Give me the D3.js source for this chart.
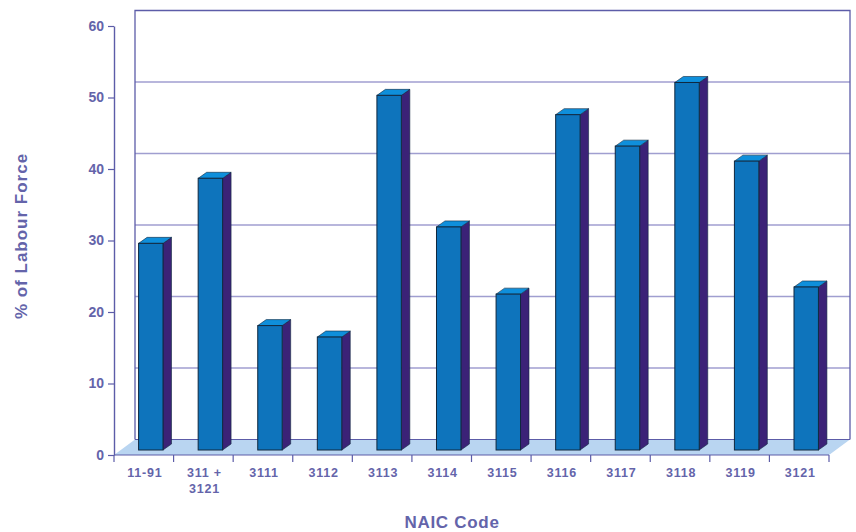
<!DOCTYPE html>
<html><head><meta charset="utf-8">
<script src="https://cdn.jsdelivr.net/npm/d3@7"></script>
<style>html,body{margin:0;padding:0;background:#fff}svg{display:block}text{font-family:"Liberation Sans",Arial,sans-serif;font-weight:bold;fill:#6464aa}</style>
</head><body><svg id="c" width="856" height="532"></svg>
<script>
const categories=["11-91","311 +|3121","3111","3112","3113","3114","3115","3116","3117","3118","3119","3121"];
const values=[28.9,38,17.4,15.8,49.6,31.2,21.8,46.9,42.5,51.4,40.4,22.8];
const yTicks=[0,10,20,30,40,50,60];
const yTitle="% of Labour Force", xTitle="NAIC Code";
const colors={ink:"#6464aa",grid:"#a09ed0",wall:"#5c5ca8",floor:"#b9d5f1",front:"#0e74bc",top:"#0f8fdb",side:"#3b2277",edge:"#10283f"};
const svg=d3.select("#c");
const y=d3.scaleLinear().domain([0,60]).range([455,26]);
const x=d3.scaleBand().domain(categories).range([114,829]).paddingInner(0.59).paddingOuter(0.295);
const D={x:21,y:-15.5}; // depth of the floor
const B={x:8.5,y:-6};   // depth of a bar
const inset={x:7,y:-5}; // bar position on the floor
const hline=(v)=>y(v)+D.y;
// floor
svg.append("path").attr("d",d3.line()([[114,y(0)],[114+D.x,y(0)+D.y],[829+D.x,y(0)+D.y],[829,y(0)]])+"Z").attr("fill",colors.floor);
// back wall grid
svg.selectAll("line.g").data(yTicks.slice(1,-1)).join("line").attr("class","g")
 .attr("x1",114+D.x).attr("x2",829+D.x).attr("y1",hline).attr("y2",hline).attr("stroke",colors.grid).attr("stroke-width",1.3);
svg.append("path").attr("d",`M${114+D.x},${y(0)+D.y}V${y(60)+D.y}H${829+D.x}V${y(0)+D.y}`).attr("fill","none").attr("stroke",colors.wall).attr("stroke-width",1.3);
svg.append("line").attr("x1",114+D.x).attr("x2",829+D.x).attr("y1",y(0)+D.y).attr("y2",y(0)+D.y).attr("stroke",colors.wall).attr("stroke-width",1);
// bars
const bars=svg.selectAll("g.b").data(categories.map((c,i)=>({c,v:values[i]}))).join("g").attr("class","b");
const bh=d=>y(0)-y(d.v);
const L=d=>x(d.c)+inset.x, R=d=>x(d.c)+inset.x+x.bandwidth(), Bt=y(0)+inset.y, T=d=>Bt-bh(d);
bars.append("path").attr("d",d=>`M${R(d)},${Bt}l${B.x},${B.y}V${T(d)+B.y}L${R(d)},${T(d)}Z`).attr("fill",colors.side).attr("stroke",colors.edge).attr("stroke-width",.6);
bars.append("path").attr("d",d=>`M${L(d)},${T(d)}l${B.x},${B.y}H${R(d)+B.x}L${R(d)},${T(d)}Z`).attr("fill",colors.top).attr("stroke",colors.edge).attr("stroke-width",.6);
bars.append("rect").attr("x",L).attr("y",T).attr("width",x.bandwidth()).attr("height",bh).attr("fill",colors.front).attr("stroke",colors.edge).attr("stroke-width",1);
// axes
const ay=svg.append("g").attr("transform","translate(114,0)").call(d3.axisLeft(y).tickValues(yTicks).tickSize(6).tickPadding(4).tickSizeOuter(0));
ay.select(".domain").attr("stroke",colors.wall).attr("stroke-width",1.4);
ay.selectAll(".tick line").attr("stroke",colors.wall).attr("stroke-width",1.2);
ay.selectAll(".tick text").attr("font-size",14).attr("fill",colors.ink).style("font-family","Liberation Sans").style("font-weight","bold");
svg.append("line").attr("x1",114).attr("x2",829).attr("y1",y(0)).attr("y2",y(0)).attr("stroke",colors.wall).attr("stroke-width",1.2);
const step=x.step();
svg.selectAll("line.t").data(d3.range(13)).join("line").attr("class","t")
 .attr("x1",i=>114+i*step).attr("x2",i=>114+i*step).attr("y1",y(0)).attr("y2",y(0)+7).attr("stroke",colors.wall).attr("stroke-width",1.2);
const lab=svg.selectAll("text.x").data(categories).join("text").attr("class","x")
 .attr("text-anchor","middle").attr("font-size",12.5).attr("letter-spacing",0.8)
 .attr("transform",d=>`translate(${x(d)+x.bandwidth()/2+1},0)`);
lab.selectAll("tspan").data(d=>d.split("|")).join("tspan").attr("x",0).attr("y",(d,i)=>477+i*16).text(d=>d);
svg.append("text").attr("text-anchor","middle").attr("font-size",17).attr("letter-spacing",0.7).attr("x",452).attr("y",527.5).text(xTitle);
svg.append("text").attr("text-anchor","middle").attr("font-size",17).attr("letter-spacing",1).attr("transform","translate(27,236) rotate(-90)").text(yTitle);
</script></body></html>
